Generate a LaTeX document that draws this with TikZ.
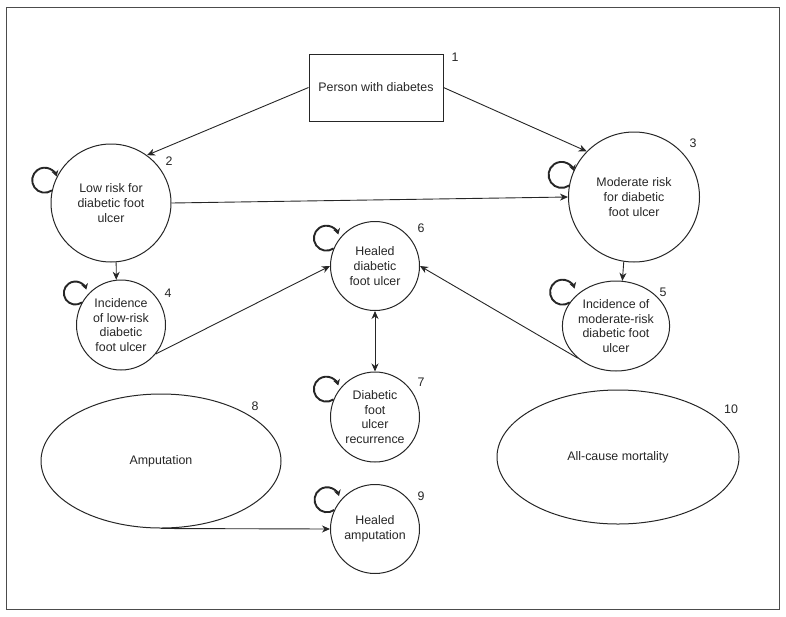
\documentclass[tikz,border=0pt]{standalone}
\usepackage{fontspec}
\setmainfont{Liberation Sans}
\usetikzlibrary{shapes.geometric,arrows.meta}
\begin{document}
\begin{tikzpicture}[x=1pt,y=1pt,
  every node/.style={font=\fontsize{12.4}{14.7}\selectfont, text=black!85},
  st/.style={draw=black!85, line width=1pt, ellipse, inner sep=0pt, align=center},
  boxst/.style={draw=black!85, line width=1pt, rectangle, inner sep=0pt, minimum width=134pt, minimum height=67pt, align=center},
  conn/.style={draw=black!85, line width=0.9pt, -{Stealth[length=8pt,width=7pt,inset=2.5pt]}},
  conntwo/.style={draw=black!85, line width=0.9pt, {Stealth[length=8pt,width=7pt,inset=2.5pt]}-{Stealth[length=8pt,width=7pt,inset=2.5pt]}},
  loopst/.style={draw=black!85, line width=1.9pt, -{Stealth[length=6pt,width=7pt,inset=2pt]}},
  num/.style={inner sep=0pt}
]
\useasboundingbox (0,0) rectangle (786,-616);
\draw[black!70, line width=1pt] (6,-7) rectangle (779,-609);

\node[boxst] (box) at (376,-87.5) {Person with diabetes};
\node[st, minimum width=120pt, minimum height=118pt] (n2) at (111,-203) {Low risk for\\diabetic foot\\ulcer};
\node[st, minimum width=131pt, minimum height=130pt] (n3) at (634,-197) {Moderate risk\\for diabetic\\foot ulcer};
\node[st, minimum width=89pt, minimum height=90pt] (n4) at (121,-325) {Incidence\\of low-risk\\diabetic\\foot ulcer};
\node[st, minimum width=86pt, minimum height=90pt] (n5) at (616,-326) {Incidence of\\moderate-risk\\diabetic foot\\ulcer};
\node[st, minimum width=89pt, minimum height=89pt] (n6) at (375,-266) {Healed\\diabetic\\foot ulcer};
\node[st, minimum width=89pt, minimum height=90pt] (n7) at (375,-417) {Diabetic\\foot\\ulcer\\recurrence};
\node[st, minimum width=240pt, minimum height=134pt] (n8) at (161,-461) {Amputation};
\node[st, minimum width=89pt, minimum height=89pt] (n9) at (375,-529) {Healed\\amputation};
\node[st, minimum width=242pt, minimum height=134pt] (n10) at (618,-457) {All-cause mortality};

\node[num] (l1) at (455,-57) {1};
\node[num] (l2) at (169,-161) {2};
\node[num] (l3) at (693,-143) {3};
\node[num] (l4) at (168,-293) {4};
\node[num] (l5) at (663,-292) {5};
\node[num] (l6) at (421,-228) {6};
\node[num] (l7) at (421,-382) {7};
\node[num] (l8) at (255,-406) {8};
\node[num] (l9) at (421,-496) {9};
\node[num] (l10) at (731,-409) {10};

\draw[conn] (box.west) -- (n2.53);
\draw[conn] (box.east) -- (n3.136);
\draw[conn] (n2.east) -- (n3.west);
\draw[conn] (n2.-85) -- (n4.96);
\draw[conn] (n3.-99) -- (n5.82);
\draw[conn] (n4.-40) -- (n6.west);
\draw[conn] (n5.220) -- (n6.east);
\draw[conntwo] (n6.south) -- (n7.north);
\draw[conn] (n8.south) -- (n9.west);

\draw[loopst] (n2.168) arc[start angle=-55, delta angle=-288, radius=12.5];
\draw[loopst] (n3.170) arc[start angle=-55, delta angle=-288, radius=13];
\draw[loopst] (n4.150) arc[start angle=-55, delta angle=-288, radius=11.5];
\draw[loopst] (n5.153) arc[start angle=-55, delta angle=-288, radius=12.5];
\draw[loopst] (n6.157) arc[start angle=-55, delta angle=-288, radius=12.5];
\draw[loopst] (n7.157) arc[start angle=-55, delta angle=-288, radius=12.5];
\draw[loopst] (n9.155) arc[start angle=-55, delta angle=-288, radius=12.5];
\end{tikzpicture}
\end{document}
